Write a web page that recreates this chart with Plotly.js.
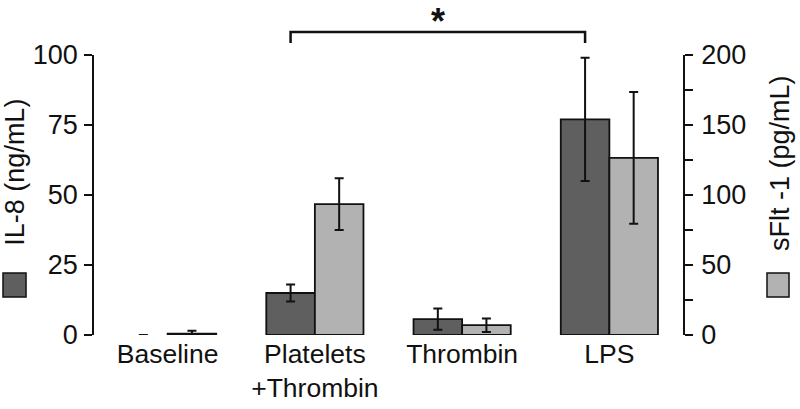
<!DOCTYPE html>
<html>
<head>
<meta charset="utf-8">
<script src="https://cdn.plot.ly/plotly-3.0.1.min.js"></script>
<style>html,body{margin:0;padding:0;background:#fff;}#chart{width:800px;height:409px;}</style>
</head>
<body>
<div id="chart"></div>
<script>
// Data
const categories = ['Baseline', 'Platelets<br>+Thrombin', 'Thrombin', 'LPS'];
const il8Values = [0, 15, 5.7, 77];          // ng/mL (left axis)
const il8Errors = [0, 3, 3.8, 22];
const sflt1Values = [1, 93.5, 7, 126.5];     // pg/mL (right axis)
const sflt1Errors = [2, 18.5, 4.8, 47];
const leftTicks = [0, 25, 50, 75, 100];
const rightTicks = [0, 50, 100, 150, 200];

const FONT = 'Liberation Sans, Arial, sans-serif';
const TXT = '#111';
const barW = 0.33;

const traces = [
  {
    type: 'bar', name: 'IL-8 (ng/mL)', x: categories, y: il8Values,
    xaxis: 'x', yaxis: 'y', width: barW, offset: -barW,
    marker: {color: '#5f5f5f', line: {color: '#111', width: [0, 1.8, 1.8, 1.8]}},
    error_y: {type: 'data', array: il8Errors, visible: true, color: '#111', thickness: 2, width: 4.5}
  },
  {
    type: 'bar', name: 'sFlt -1 (pg/mL)', x: categories, y: sflt1Values,
    xaxis: 'x', yaxis: 'y2', width: barW, offset: 0,
    marker: {color: '#b2b2b2', line: {color: '#111', width: 1.8}},
    error_y: {type: 'data', array: sflt1Errors, visible: true, color: '#111', thickness: 2, width: 4.5}
  }
];

const layout = {
  width: 800, height: 409,
  margin: {l: 94, r: 117, t: 55, b: 74},
  paper_bgcolor: '#fff', plot_bgcolor: '#fff',
  showlegend: false,
  font: {family: FONT, color: TXT, size: 26},
  xaxis: {
    type: 'category', range: [-0.5, 3.5], showline: false, showgrid: false,
    zeroline: false, ticks: '', tickfont: {family: FONT, size: 26.5, color: TXT},
    fixedrange: true
  },
  yaxis: {
    range: [0, 100], tickvals: leftTicks, ticktext: leftTicks.map(String),
    showline: true, linecolor: '#111', linewidth: 1.8, ticks: 'outside', ticklen: 8,
    tickwidth: 1.8, tickcolor: '#111', showgrid: false, zeroline: false,
    tickfont: {family: FONT, size: 27, color: TXT}, ticklabelstandoff: 1
  },
  yaxis2: {
    range: [0, 200], overlaying: 'y', side: 'right', anchor: 'x',
    tickvals: rightTicks, ticktext: rightTicks.map(String),
    showline: true, linecolor: '#111', linewidth: 1.8, ticks: 'outside', ticklen: 8,
    tickwidth: 1.8, tickcolor: '#111', showgrid: false, zeroline: false,
    minor: {dtick: 25, ticks: 'outside', ticklen: 8, tickwidth: 1.8, tickcolor: '#111', showgrid: false},
    tickfont: {family: FONT, size: 27, color: TXT}, ticklabelstandoff: 3
  },
  shapes: [
    // legend squares
    {type: 'rect', xref: 'paper', yref: 'paper', x0: -0.1545, x1: -0.1154, y0: 0.1357, y1: 0.2214,
     fillcolor: '#5f5f5f', line: {color: '#111', width: 1.5}},
    {type: 'rect', xref: 'paper', yref: 'paper', x0: 1.1426, x1: 1.18, y0: 0.1357, y1: 0.2214,
     fillcolor: '#b2b2b2', line: {color: '#111', width: 1.5}},
    // significance bracket
    {type: 'path', xref: 'x', yref: 'paper',
     path: 'M 0.835 1.043 L 0.835 1.082 L 2.835 1.082 L 2.835 1.043',
     line: {color: '#111', width: 2.5}}
  ],
  annotations: [
    {text: 'IL-8 (ng/mL)', xref: 'paper', yref: 'paper', x: -0.134, y: 0.58, textangle: -90,
     showarrow: false, font: {family: FONT, size: 27, color: TXT}, xanchor: 'center', yanchor: 'middle'},
    {text: 'sFlt -1 (pg/mL)', xref: 'paper', yref: 'paper', x: 1.165, y: 0.615, textangle: -90,
     showarrow: false, font: {family: FONT, size: 27, color: TXT}, xanchor: 'center', yanchor: 'middle'},
    {text: '<b>*</b>', xref: 'x', yref: 'paper', x: 1.835, y: 1.12, showarrow: false,
     font: {family: FONT, size: 36, color: TXT}, xanchor: 'center', yanchor: 'middle'}
  ]
};

Plotly.newPlot('chart', traces, layout, {staticPlot: true, displayModeBar: false});
</script>
</body>
</html>
